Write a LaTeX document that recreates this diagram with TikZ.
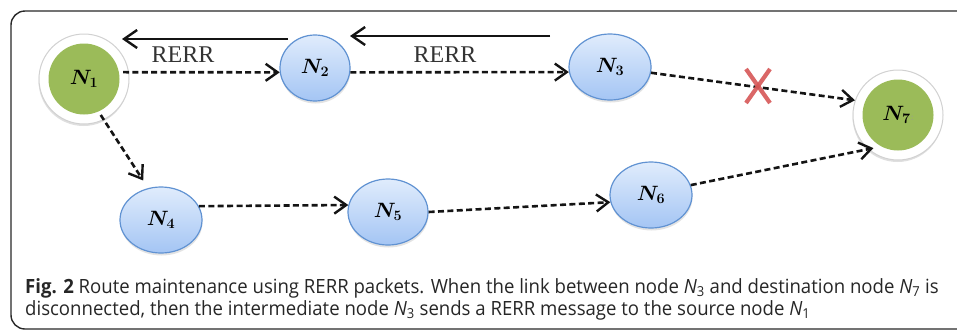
\documentclass[tikz,border=0pt]{standalone}
\usepackage{fontspec}
\usetikzlibrary{arrows.meta,shadows,shapes.geometric}
\newfontfamily\capfont[FakeStretch=0.948]{Open Sans}
\newfontfamily\msgfont{Liberation Serif}

\definecolor{leaf}{RGB}{155,187,89}
\definecolor{skytop}{RGB}{224,236,252}
\definecolor{skybot}{RGB}{164,197,244}
\definecolor{skyline}{RGB}{96,146,210}
\definecolor{crossred}{RGB}{214,86,86}
\definecolor{framegray}{RGB}{40,40,40}

\tikzset{
  relay/.style={ellipse, inner sep=0pt, minimum width=82pt, minimum height=66pt,
    top color=skytop, bottom color=skybot, draw=skyline, line width=1.2pt,
    drop shadow={opacity=0.22, shadow xshift=0.5pt, shadow yshift=-2.5pt},
    font=\fontsize{22}{22}\selectfont\boldmath},
  halo/.style={circle, inner sep=0pt, minimum size=90pt, fill=white, draw=black!18,
    line width=1pt, drop shadow={opacity=0.25, shadow xshift=-0.5pt, shadow yshift=-2pt}},
  endpoint/.style={circle, inner sep=0pt, minimum size=71pt, fill=leaf,
    font=\fontsize{22}{22}\selectfont\boldmath},
  hop/.style={draw=black!92, line width=2.6pt, dash pattern=on 6pt off 3.4pt,
    -{Straight Barb[length=12pt,width=17pt,line width=2.4pt]}},
  rerr/.style={draw=black!92, line width=2.5pt,
    -{Straight Barb[length=13pt,width=18pt,line width=2.4pt]}},
  msg/.style={font=\msgfont\fontsize{24}{24}\selectfont, text=black!80, inner sep=0pt},
  cross/.style={draw=crossred, line width=4.2pt, opacity=0.9},
  capline/.style={anchor=base west, inner sep=0pt,
    font=\capfont\fontsize{19.6}{22}\selectfont, text=black!85}
}

\begin{document}
\begin{tikzpicture}[x=1pt,y=-1pt]
  \useasboundingbox (0,0) rectangle (957,330);
  \begin{scope}
    \clip (0,0) rectangle (957,330);
    \draw[framegray, line width=1.4pt, rounded corners=14pt] (11,11) rectangle (985,329);
  \end{scope}

  % source and destination
  \node[halo] (h1) at (84,79) {};
  \node[endpoint] (n1) at (84,79) {$N_1$};
  \node[halo] (h7) at (898,115) {};
  \node[endpoint] (n7) at (898,115) {$N_7$\textcolor{black!40}{\fontsize{10}{10}\selectfont:}};

  % intermediate nodes
  \node[relay, minimum width=70pt] (n2) at (315,68) {$N_2$};
  \node[relay] (n3) at (610,67) {$N_3$};
  \node[relay] (n4) at (161,220) {$N_4$};
  \node[relay, minimum width=80pt] (n5) at (388,212) {$N_5$};
  \node[relay] (n6) at (651,195) {$N_6$};

  % forward route
  \draw[hop, shorten <=4pt] (n1.11) -- (n2.187);
  \draw[hop] (n2.353) -- (n3.187);
  \draw[hop, shorten >=10pt] (n3.352) -- (n7.158);
  \draw[hop, shorten <=4pt, shorten >=9pt] (n1.294) -- (n4.112);
  \draw[hop] (n4.20) -- (n5.170);
  \draw[hop] (n5.0) -- (n6.190);
  \draw[hop, shorten >=8pt] (n6.14) -- (n7.242);

  % broken link
  \coordinate (brk) at (758,86);
  \draw[cross] ([shift={(-12,-17)}]brk) -- ([shift={(12,17)}]brk);
  \draw[cross] ([shift={(12,-17)}]brk) -- ([shift={(-12,17)}]brk);

  % route error messages back to the source
  \path (n2.center) ++(-27,-29) coordinate (r1a);
  \path (n1.center) ++(38,-40) coordinate (r1b);
  \draw[rerr] (r1a) -- (r1b);
  \node[msg] (m1) at (183,55) {RERR};
  \path (n3.center) ++(-60,-31) coordinate (r2a);
  \path (n2.center) ++(35,-32) coordinate (r2b);
  \draw[rerr] (r2a) -- (r2b);
  \node[msg] (m2) at (445,55) {RERR};

  % caption
  \node[capline] (c1) at (25,293) {\textbf{Fig. 2} Route maintenance using RERR packets. When the link between node \textit{N}\textsubscript{3} and destination node \textit{N}\textsubscript{7} is};
  \node[capline] (c2) at (25,315) {disconnected, then the intermediate node \textit{N}\textsubscript{3} sends a RERR message to the source node \textit{N}\textsubscript{1}};
\end{tikzpicture}
\end{document}
